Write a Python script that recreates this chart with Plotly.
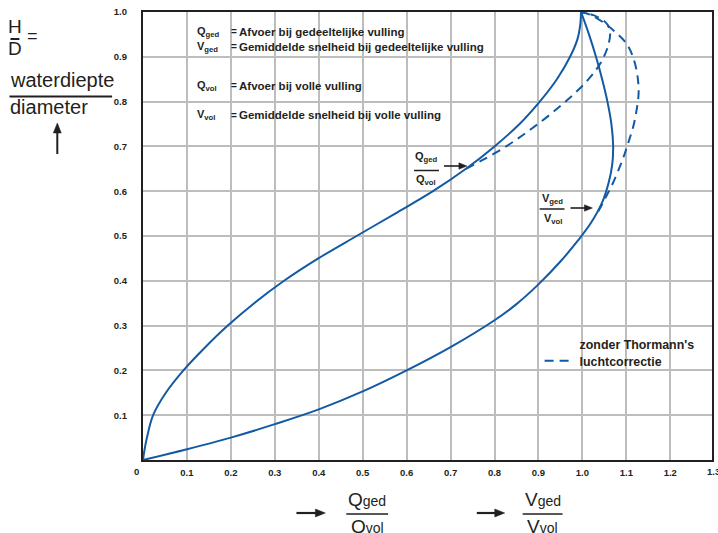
import plotly.graph_objects as go

# ---------------- data ----------------
# solid Q_ged/Q_vol curve (with Thormann's air correction)
hd_q = [0, 0.02, 0.05, 0.10, 0.15, 0.20, 0.25, 0.30, 0.35, 0.40, 0.45, 0.50,
        0.55, 0.60, 0.65, 0.70, 0.75, 0.80, 0.85, 0.90, 0.94, 0.97, 1.0]
q_ratio = [0, 0.003, 0.009, 0.023, 0.052, 0.092, 0.140, 0.193, 0.253, 0.321, 0.399, 0.486,
           0.574, 0.660, 0.735, 0.800, 0.857, 0.903, 0.942, 0.972, 0.989, 0.995, 0.997]

# solid V_ged/V_vol curve
v_ratio = [0, 0.10, 0.20, 0.30, 0.40, 0.50, 0.60, 0.70, 0.80, 0.85, 0.90, 0.95,
           0.99, 1.02, 1.045, 1.060, 1.068, 1.070, 1.066, 1.057, 1.045, 1.031, 1.015, 0.997]
hd_v = [0, 0.024, 0.050, 0.080, 0.113, 0.153, 0.200, 0.252, 0.312, 0.348, 0.392, 0.443,
        0.490, 0.530, 0.575, 0.620, 0.660, 0.700, 0.750, 0.800, 0.850, 0.900, 0.950, 1.0]

# dashed curves: without Thormann's air correction
hd_q_dash = [0.650, 0.668, 0.690, 0.714, 0.740, 0.770, 0.803, 0.838, 0.872, 0.898,
             0.930, 0.955, 0.972, 0.983, 0.993, 1.0]
q_ratio_dash = [0.735, 0.770, 0.810, 0.848, 0.885, 0.925, 0.965, 1.003, 1.032, 1.048,
                1.060, 1.063, 1.057, 1.045, 1.025, 0.997]

hd_v_dash = [1.0, 0.993, 0.975, 0.955, 0.930, 0.900, 0.860, 0.820, 0.785, 0.745,
             0.710, 0.677, 0.647, 0.615, 0.590, 0.565, 0.550]
v_ratio_dash = [0.997, 1.020, 1.050, 1.075, 1.100, 1.115, 1.125, 1.128, 1.124, 1.116,
                1.105, 1.094, 1.082, 1.068, 1.055, 1.042, 1.033]

x_tick_labels = ["0", "0.1", "0.2", "0.3", "0.4", "0.5", "0.6", "0.7", "0.8", "0.9",
                 "1.0", "1.1", "1.2", "1.3"]
y_tick_labels = ["0.1", "0.2", "0.3", "0.4", "0.5", "0.6", "0.7", "0.8", "0.9", "1.0"]

legend_lines = ["zonder Thormann's", "luchtcorrectie"]

# ---------------- layout helpers ----------------
W, H = 718, 533
L, R, T, B = 143, 4, 12, 73
PW = W - L - R
PH = H - T - B


def px(x):
    return (x - L) / PW


def py(y):
    return (H - B - y) / PH


BLUE = "#125aa3"
INK = "#231f20"
FONT = "Liberation Sans, Arial, Helvetica, sans-serif"

fig = go.Figure()
line_solid = dict(color=BLUE, width=2, shape="spline", smoothing=1.0)
line_dash = dict(color=BLUE, width=2, dash="9px,6px", shape="spline", smoothing=1.0)

fig.add_trace(go.Scatter(x=q_ratio, y=hd_q, mode="lines", line=line_solid,
                         showlegend=False, hoverinfo="skip"))
fig.add_trace(go.Scatter(x=v_ratio, y=hd_v, mode="lines", line=line_solid,
                         showlegend=False, hoverinfo="skip"))
fig.add_trace(go.Scatter(x=q_ratio_dash, y=hd_q_dash, mode="lines", line=line_dash,
                         name="<br>".join("<b>%s</b>" % s for s in legend_lines),
                         legendgroup="d", showlegend=True, hoverinfo="skip"))
fig.add_trace(go.Scatter(x=v_ratio_dash, y=hd_v_dash, mode="lines", line=line_dash,
                         legendgroup="d", showlegend=False, hoverinfo="skip"))

annotations = []
shapes = []


def txt(x, y, text, size=11, xanchor="left"):
    annotations.append(dict(x=px(x), y=py(y), xref="paper", yref="paper", text=text,
                            showarrow=False, xanchor=xanchor, yanchor="middle",
                            font=dict(family=FONT, size=size, color=INK)))


def seg(x0, y0, x1, y1, width=1.5):
    shapes.append(dict(type="line", xref="paper", yref="paper", x0=px(x0), x1=px(x1),
                       y0=py(y0), y1=py(y1), line=dict(color=INK, width=width)))


def bar(x0, x1, y, width=1.5):
    seg(x0, y, x1, y, width)


def arrow(x0, y0, x1, y1, width=2, head=9, half=3.6):
    dx, dy = x1 - x0, y1 - y0
    n = (dx * dx + dy * dy) ** 0.5
    ux, uy = dx / n, dy / n
    bx, by = x1 - ux * head, y1 - uy * head
    seg(x0, y0, bx + ux, by + uy, width)
    nx, ny = -uy * half, ux * half
    pts = [(x1, y1), (bx + nx, by + ny), (bx - nx, by - ny)]
    path = "M " + " L ".join("%.5f,%.5f" % (px(a), py(b)) for a, b in pts) + " Z"
    shapes.append(dict(type="path", xref="paper", yref="paper", path=path,
                       fillcolor=INK, line=dict(color=INK, width=0.5)))


# definitions block
defs = [("Q", "ged", "Afvoer bij gedeeltelijke vulling", 32),
        ("V", "ged", "Gemiddelde snelheid bij gedeeltelijke vulling", 46.5),
        ("Q", "vol", "Afvoer bij volle vulling", 85.5),
        ("V", "vol", "Gemiddelde snelheid bij volle vulling", 115)]
for sym, sub, desc, yy in defs:
    txt(195, yy, "<b>%s<sub>%s</sub></b>" % (sym, sub), size=11)
    txt(229, yy, "<b>=</b>", size=10)
    txt(237, yy, "<b>%s</b>" % desc, size=11.5)

# in-plot fraction labels
txt(427, 157, "<b>Q<sub>ged</sub></b>", size=11, xanchor="center")
bar(415, 440, 170.5)
txt(427, 180, "<b>Q<sub>vol</sub></b>", size=11, xanchor="center")
arrow(445, 166, 468, 166, width=1.6, head=8, half=3.2)

txt(554, 199, "<b>V<sub>ged</sub></b>", size=11, xanchor="center")
bar(541, 566, 209)
txt(554, 219, "<b>V<sub>vol</sub></b>", size=11, xanchor="center")
arrow(572, 208, 594, 208, width=1.6, head=8, half=3.2)

# x tick labels that sit outside the standard tick placement
txt(136, 472, "<b>%s</b>" % x_tick_labels[0], size=9.5, xanchor="center")
txt(716, 472, "<b>%s</b>" % x_tick_labels[-1], size=9.5, xanchor="center")

# y-axis title block
txt(14.5, 26, "H", size=19, xanchor="center")
bar(10, 19, 39, width=2)
txt(14.5, 49, "D", size=19, xanchor="center")
txt(32, 36, "=", size=18, xanchor="center")
txt(8, 80, "waterdiepte", size=20)
bar(9, 112, 96.5, width=2)
txt(8, 107, "diameter", size=20)
arrow(57, 154, 57, 123, width=2, head=10, half=4)

# x-axis title block
arrow(297, 513, 326, 513, width=2.2, head=10, half=4)
txt(368, 500, "Q<span style='font-size:14px'>ged</span>", size=19, xanchor="center")
bar(347, 389, 514)
txt(368, 526, "Q<span style='font-size:14px'>vol</span>", size=19, xanchor="center")
arrow(478, 513, 506, 513, width=2.2, head=10, half=4)
txt(544, 500, "V<span style='font-size:14px'>ged</span>", size=19, xanchor="center")
bar(524, 564, 514)
txt(544, 526, "V<span style='font-size:14px'>vol</span>", size=19, xanchor="center")

xt = x_tick_labels[1:-1]
fig.update_layout(
    width=W, height=H,
    margin=dict(l=L, r=R, t=T, b=B, pad=0),
    paper_bgcolor="white", plot_bgcolor="white",
    font=dict(family=FONT, color=INK),
    xaxis=dict(range=[0, 1.295], tickvals=[float(t) for t in xt],
               ticktext=["<b>%s</b>" % t for t in xt],
               tickfont=dict(family=FONT, size=9.5, color=INK),
               showgrid=True, gridcolor="#bdbdbd", gridwidth=1.5,
               showline=True, mirror=True, linecolor=INK, linewidth=2.2,
               zeroline=False, ticks="", ticklabelstandoff=2, fixedrange=True),
    yaxis=dict(range=[0, 1], tickvals=[float(t) for t in y_tick_labels],
               ticktext=["<b>%s</b>" % t for t in y_tick_labels],
               tickfont=dict(family=FONT, size=9.5, color=INK),
               showgrid=True, gridcolor="#bdbdbd", gridwidth=1.5,
               showline=True, mirror=True, linecolor=INK, linewidth=2.2,
               zeroline=False, ticks="", ticklabelstandoff=12, fixedrange=True),
    legend=dict(x=px(541), y=py(330), xanchor="left", yanchor="top",
                bgcolor="rgba(0,0,0,0)", borderwidth=0, valign="bottom",
                font=dict(family=FONT, size=12.4, color=INK), itemwidth=30),
    annotations=annotations,
    shapes=shapes,
)

fig.write_html("out.html")
